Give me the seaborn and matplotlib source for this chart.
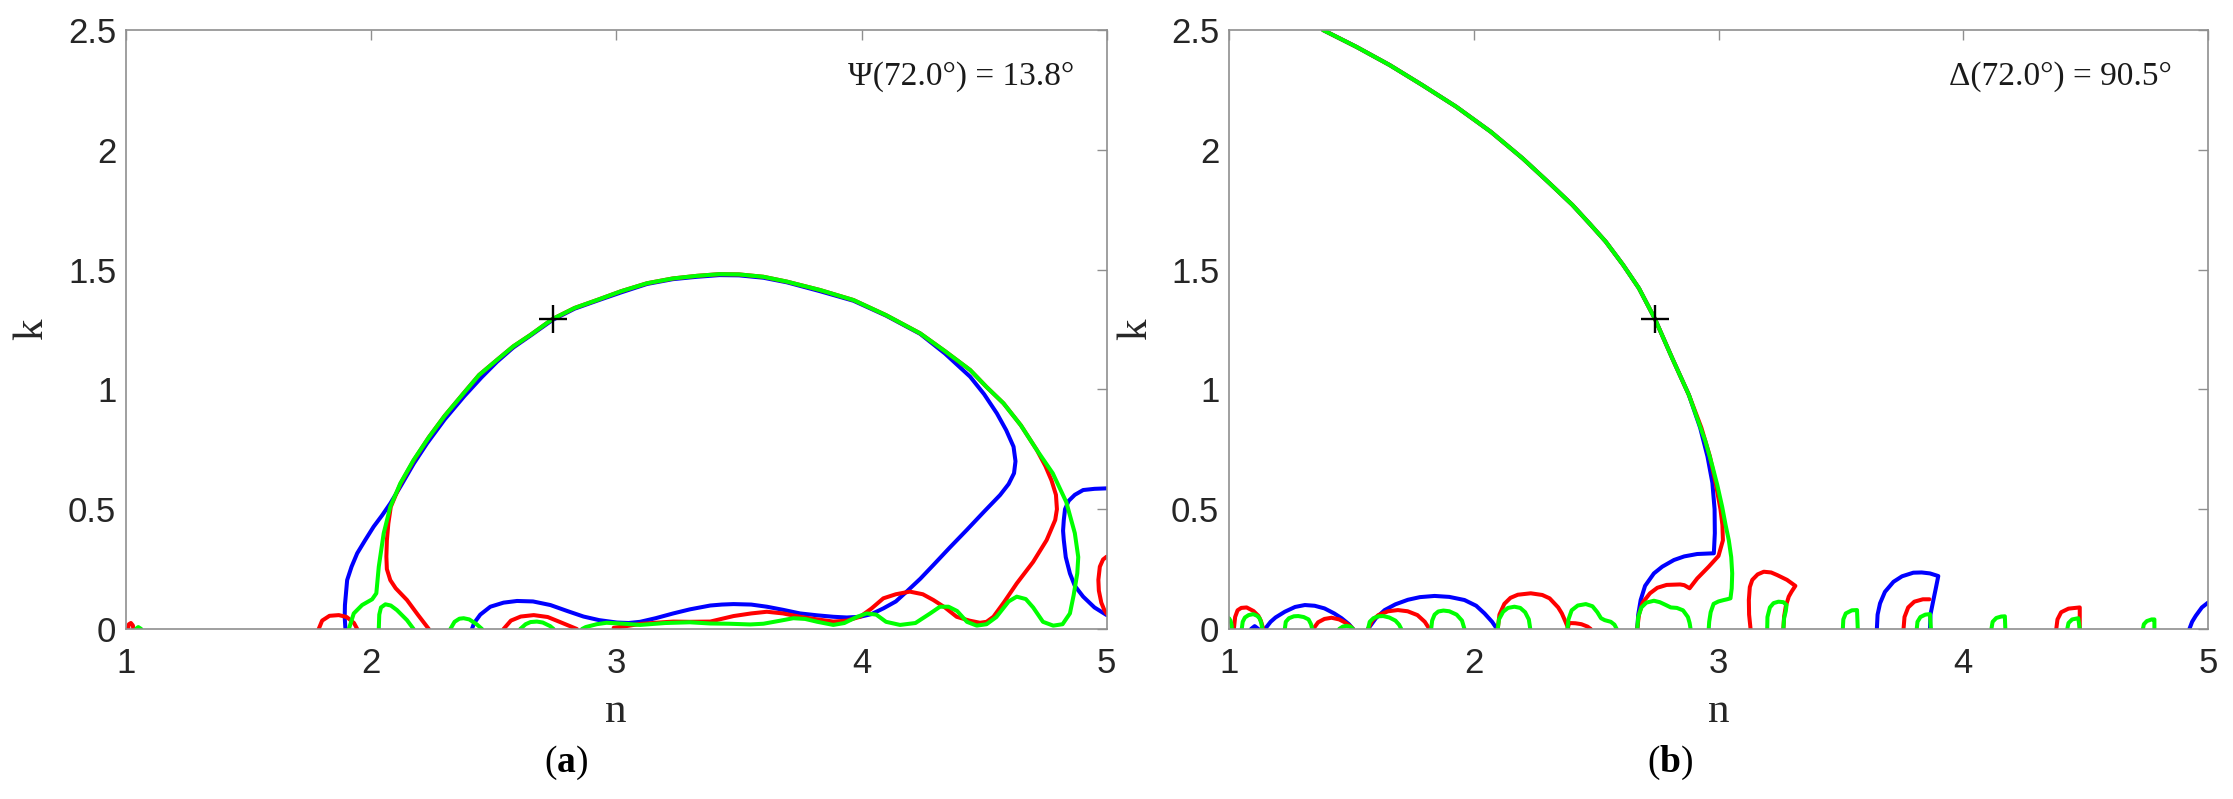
import matplotlib
matplotlib.use("Agg")
import matplotlib.pyplot as plt
import seaborn as sns
import pandas as pd

sns.set_theme(style="white")
plt.rcParams["font.family"] = ["Liberation Sans", "DejaVu Sans"]
plt.rcParams["mathtext.fontset"] = "custom"
plt.rcParams["mathtext.rm"] = "Liberation Serif"
plt.rcParams["mathtext.bf"] = "Liberation Serif:bold"

BLUE, RED, GREEN = "#0000FF", "#FF0000", "#00FF00"

# ---------------- data: panel (a)  Psi contours, (n, k) ----------------
a_blue_main = [(1.895,0.0),(1.892,0.05),(1.893,0.10),(1.902,0.204),(1.92,0.26),(1.943,0.316),(1.975,0.37),
    (2.010,0.427),(2.045,0.475),(2.078,0.524),(2.119,0.594),(2.174,0.691),(2.228,0.775),(2.30,0.875),
    (2.38,0.972),(2.45,1.05),(2.513,1.115),(2.58,1.175),(2.649,1.224),(2.74,1.29),(2.83,1.337),(2.921,1.37),
    (3.02,1.405),(3.125,1.44),(3.23,1.46),(3.329,1.47),(3.42,1.477),(3.50,1.476),(3.60,1.466),(3.695,1.447),
    (3.83,1.41),(3.967,1.37),(4.10,1.308),(4.239,1.232),(4.34,1.15),(4.443,1.053),(4.50,0.98),(4.552,0.90),
    (4.59,0.83),(4.620,0.761),(4.628,0.70),(4.622,0.65),(4.60,0.605),(4.565,0.559),(4.50,0.49),(4.429,0.413),
    (4.36,0.34),(4.293,0.267),(4.24,0.21),(4.184,0.156),(4.14,0.115),(4.089,0.086),(4.04,0.062),(3.994,0.051),
    (3.94,0.048),(3.885,0.051),(3.82,0.057),(3.749,0.065),(3.68,0.08),(3.614,0.093),(3.55,0.102),(3.478,0.104),
    (3.43,0.102),(3.383,0.098),(3.30,0.082),(3.232,0.065),(3.16,0.045),(3.097,0.03),(3.05,0.025),(3.002,0.027),
    (2.93,0.037),(2.866,0.052),(2.80,0.075),(2.731,0.10),(2.66,0.115),(2.595,0.117),(2.54,0.11),(2.486,0.093),
    (2.445,0.06),(2.42,0.025),(2.411,0.0)]
a_blue_loop = [(5.0,0.587),(4.95,0.585),(4.904,0.58),(4.87,0.56),(4.845,0.535),(4.83,0.50),(4.825,0.455),
    (4.822,0.41),(4.825,0.371),(4.833,0.30),(4.850,0.232),(4.87,0.18),(4.904,0.135),(4.95,0.09),(5.0,0.058)]

a_red_main = [(2.235,0.0),(2.19,0.06),(2.146,0.121),(2.10,0.17),(2.078,0.204),(2.064,0.25),(2.062,0.302),
    (2.064,0.37),(2.07,0.44),(2.08,0.51),(2.119,0.605),(2.173,0.703),(2.235,0.80),(2.30,0.89),(2.377,0.984),
    (2.44,1.06),(2.513,1.123),(2.58,1.18),(2.649,1.227),(2.74,1.294),(2.83,1.34),(2.921,1.373),(3.02,1.41),
    (3.125,1.443),(3.23,1.463),(3.329,1.474),(3.42,1.481),(3.50,1.48),(3.60,1.47),(3.695,1.45),(3.83,1.415),
    (3.967,1.373),(4.10,1.31),(4.239,1.234),(4.34,1.16),(4.443,1.081),(4.51,1.01),(4.579,0.942),(4.65,0.85),
    (4.715,0.747),(4.75,0.68),(4.775,0.62),(4.793,0.56),(4.797,0.50),(4.79,0.455),(4.755,0.371),(4.70,0.28),
    (4.633,0.19),(4.58,0.11),(4.538,0.051),(4.51,0.03),(4.483,0.026),(4.44,0.035),(4.388,0.051),(4.34,0.09),
    (4.293,0.121),(4.25,0.145),(4.197,0.156),(4.14,0.145),(4.089,0.128),(4.04,0.085),(3.994,0.051),(3.94,0.035),
    (3.885,0.031),(3.82,0.04),(3.749,0.051),(3.68,0.065),(3.614,0.072),(3.55,0.065),(3.478,0.054),(3.42,0.04),
    (3.383,0.031),(3.30,0.03),(3.232,0.031),(3.16,0.026),(3.097,0.021),(3.04,0.012),(2.989,0.005)]
a_red_edge = [(5.0,0.302),(4.985,0.29),(4.972,0.26),(4.966,0.205),(4.968,0.16),(4.978,0.11),(4.99,0.08),(5.0,0.064)]
a_red_dot = [(1.008,0.0),(1.012,0.02),(1.02,0.025),(1.028,0.015),(1.03,0.0)]
a_red_h1 = [(1.786,0.0),(1.80,0.035),(1.83,0.055),(1.868,0.058),(1.90,0.05),(1.93,0.025),(1.943,0.0)]
a_red_h2 = [(2.540,0.0),(2.57,0.035),(2.61,0.052),(2.663,0.058),(2.72,0.05),(2.78,0.025),(2.839,0.0)]

a_green_main = [(1.909,0.0),(1.929,0.065),(1.963,0.10),(2.004,0.124),(2.021,0.149),(2.031,0.26),(2.051,0.399),
    (2.078,0.51),(2.119,0.608),(2.173,0.705),(2.235,0.80),(2.30,0.89),(2.377,0.984),(2.44,1.06),(2.513,1.123),
    (2.58,1.18),(2.649,1.227),(2.74,1.294),(2.83,1.34),(2.921,1.373),(3.02,1.41),(3.125,1.443),(3.23,1.463),
    (3.329,1.474),(3.42,1.481),(3.50,1.48),(3.60,1.47),(3.695,1.45),(3.83,1.415),(3.967,1.373),(4.10,1.31),
    (4.239,1.234),(4.34,1.16),(4.443,1.081),(4.51,1.01),(4.579,0.942),(4.65,0.85),(4.715,0.747),(4.78,0.65),
    (4.835,0.53),(4.870,0.40),(4.884,0.30),(4.880,0.232),(4.865,0.14),(4.850,0.065),(4.82,0.02),(4.782,0.014),
    (4.74,0.03),(4.70,0.09),(4.67,0.125),(4.633,0.135),(4.60,0.115),(4.55,0.05),(4.51,0.02),(4.47,0.014),
    (4.43,0.03),(4.39,0.075),(4.355,0.093),(4.32,0.093),(4.28,0.065),(4.22,0.025),(4.157,0.017),(4.10,0.03),
    (4.06,0.06),(4.021,0.065),(3.98,0.05),(3.93,0.025),(3.885,0.017),(3.82,0.03),(3.77,0.042),(3.722,0.045),
    (3.67,0.035),(3.60,0.022),(3.546,0.019),(3.46,0.022),(3.383,0.023),(3.30,0.028),(3.2,0.025),(3.097,0.017),
    (3.03,0.022),(2.96,0.026),(2.92,0.02),(2.875,0.008),(2.86,0.0)]
a_green_dot = [(1.04,0.0),(1.05,0.008),(1.062,0.0)]
a_green_h1 = [(2.031,0.0),(2.033,0.06),(2.04,0.09),(2.058,0.103),(2.08,0.098),(2.105,0.079),(2.146,0.037),(2.173,0.0)]
a_green_h2 = [(2.323,0.0),(2.34,0.03),(2.36,0.043),(2.377,0.045),(2.40,0.04),(2.43,0.02),(2.452,0.0)]
a_green_h3 = [(2.608,0.0),(2.63,0.02),(2.65,0.029),(2.676,0.031),(2.70,0.027),(2.73,0.012),(2.744,0.0)]

# ---------------- data: panel (b)  Delta contours, (n, k) ----------------
b_blue_main = [(1.384,2.5),(1.52,2.43),(1.656,2.354),(1.79,2.27),(1.928,2.18),(2.07,2.075),(2.2,1.964),
    (2.31,1.86),(2.403,1.77),(2.475,1.69),(2.539,1.617),(2.61,1.52),(2.675,1.422),(2.74,1.295),(2.811,1.13),
    (2.879,0.977),(2.925,0.84),(2.955,0.72),(2.975,0.61),(2.984,0.50),(2.985,0.40),(2.981,0.316),(2.913,0.313),
    (2.86,0.303),(2.818,0.288),(2.77,0.26),(2.736,0.232),(2.70,0.18),(2.682,0.121),(2.672,0.06),(2.668,0.0)]
b_blue_t1 = [(1.09,0.0),(1.105,0.012),(1.12,0.0)]
b_blue_t2 = [(1.147,0.0),(1.17,0.03),(1.19,0.048),(1.228,0.072),(1.27,0.092),(1.31,0.10),(1.35,0.097),
    (1.39,0.086),(1.43,0.065),(1.46,0.045),(1.49,0.02),(1.507,0.0)]
b_blue_t3 = [(1.568,0.0),(1.60,0.045),(1.636,0.079),(1.68,0.103),(1.731,0.122),(1.78,0.133),(1.84,0.138),
    (1.90,0.134),(1.962,0.121),(2.01,0.097),(2.044,0.065),(2.075,0.03),(2.095,0.0)]
b_blue_t4 = [(3.647,0.0),(3.65,0.06),(3.66,0.107),(3.68,0.155),(3.715,0.197),(3.75,0.22),(3.796,0.235),
    (3.83,0.236),(3.864,0.232),(3.898,0.221),(3.888,0.17),(3.878,0.121),(3.866,0.06),(3.864,0.0)]
b_blue_t5 = [(4.924,0.0),(4.935,0.03),(4.95,0.055),(4.975,0.09),(5.0,0.11)]

b_red_main = [(1.384,2.5),(1.52,2.43),(1.656,2.354),(1.79,2.27),(1.928,2.18),(2.07,2.075),(2.2,1.964),
    (2.31,1.86),(2.403,1.77),(2.475,1.69),(2.539,1.617),(2.61,1.52),(2.675,1.422),(2.74,1.295),(2.811,1.13),
    (2.879,0.977),(2.93,0.84),(2.965,0.72),(2.99,0.60),(3.008,0.50),(3.016,0.434),(3.018,0.37),(3.00,0.305),
    (2.96,0.26),(2.913,0.211),(2.882,0.170),(2.86,0.183),(2.843,0.186),(2.788,0.184),(2.75,0.172),(2.72,0.149),
    (2.69,0.11),(2.675,0.06),(2.668,0.0)]
b_red_t1 = [(1.02,0.0),(1.025,0.05),(1.035,0.078),(1.05,0.088),(1.072,0.09),(1.10,0.075),(1.12,0.055),
    (1.13,0.035),(1.14,0.0)]
b_red_t2 = [(1.344,0.0),(1.364,0.028),(1.39,0.042),(1.419,0.047),(1.45,0.04),(1.473,0.028),(1.495,0.012),(1.507,0.0)]
b_red_t3 = [(1.568,0.0),(1.585,0.035),(1.61,0.058),(1.65,0.074),(1.69,0.079),(1.73,0.074),(1.77,0.058),
    (1.80,0.03),(1.819,0.0)]
b_red_t4 = [(2.098,0.0),(2.105,0.06),(2.125,0.105),(2.15,0.13),(2.18,0.143),(2.233,0.149),(2.28,0.142),
    (2.31,0.128),(2.345,0.09),(2.36,0.065),(2.375,0.03),(2.387,0.0)]
b_red_t5 = [(2.383,0.0),(2.39,0.025),(2.415,0.024),(2.44,0.02),(2.465,0.01),(2.478,0.0)]
b_red_t6 = [(3.131,0.0),(3.125,0.06),(3.124,0.121),(3.128,0.175),(3.138,0.205),(3.16,0.228),(3.185,0.239),
    (3.215,0.236),(3.24,0.225),(3.28,0.205),(3.314,0.18),(3.298,0.155),(3.287,0.135),(3.275,0.095),
    (3.268,0.052),(3.265,0.0)]
b_red_t7 = [(3.756,0.0),(3.76,0.05),(3.775,0.09),(3.80,0.114),(3.835,0.124),(3.862,0.124)]
b_red_t8 = [(4.38,0.0),(4.385,0.04),(4.40,0.07),(4.43,0.085),(4.476,0.09),(4.476,0.0)]

b_green_main = [(1.384,2.5),(1.52,2.43),(1.656,2.354),(1.79,2.27),(1.928,2.18),(2.07,2.075),(2.2,1.964),
    (2.31,1.86),(2.403,1.77),(2.475,1.69),(2.539,1.617),(2.61,1.52),(2.675,1.422),(2.74,1.295),(2.811,1.13),
    (2.879,0.977),(2.947,0.782),(2.975,0.68),(2.995,0.601),(3.015,0.51),(3.029,0.434),(3.042,0.371),
    (3.052,0.30),(3.056,0.232),(3.054,0.17),(3.049,0.128),(3.035,0.124),(3.022,0.121),(3.0,0.115),
    (2.98,0.105),(2.968,0.07),(2.962,0.03),(2.96,0.0)]
b_green_t0 = [(1.0,0.045),(1.006,0.035),(1.01,0.02),(1.012,0.0)]
b_green_t1 = [(1.052,0.0),(1.056,0.03),(1.065,0.048),(1.08,0.058),(1.099,0.062),(1.115,0.055),(1.125,0.045),
    (1.132,0.025),(1.136,0.0)]
b_green_t2 = [(1.228,0.0),(1.232,0.03),(1.245,0.045),(1.265,0.053),(1.283,0.054),(1.305,0.05),(1.325,0.04),
    (1.335,0.02),(1.34,0.0)]
b_green_t3 = [(1.45,0.0),(1.465,0.01),(1.48,0.013),(1.495,0.01),(1.507,0.0)]
b_green_t4 = [(1.568,0.0),(1.575,0.03),(1.59,0.045),(1.61,0.053),(1.63,0.054),(1.655,0.048),(1.68,0.035),
    (1.695,0.018),(1.704,0.0)]
b_green_t5 = [(1.826,0.0),(1.83,0.035),(1.84,0.06),(1.855,0.073),(1.876,0.077),(1.90,0.074),(1.93,0.06),
    (1.952,0.035),(1.962,0.0)]
b_green_t6 = [(2.098,0.0),(2.103,0.04),(2.12,0.072),(2.14,0.088),(2.166,0.093),(2.19,0.088),(2.21,0.07),
    (2.225,0.04),(2.231,0.0)]
b_green_t7 = [(2.383,0.0),(2.387,0.04),(2.40,0.078),(2.425,0.098),(2.458,0.104),(2.485,0.095),(2.505,0.07),
    (2.52,0.045),(2.535,0.037),(2.56,0.03),(2.575,0.018),(2.584,0.0)]
b_green_t8 = [(2.668,0.0),(2.672,0.05),(2.685,0.09),(2.705,0.11),(2.736,0.118),(2.76,0.112),(2.785,0.1),
    (2.805,0.09),(2.83,0.088),(2.855,0.078),(2.875,0.05),(2.882,0.025),(2.886,0.0)]
b_green_t9 = [(3.199,0.0),(3.2,0.05),(3.21,0.09),(3.225,0.108),(3.245,0.114),(3.265,0.112),(3.278,0.1),
    (3.275,0.075),(3.268,0.045),(3.265,0.0)]
b_green_t10 = [(3.508,0.0),(3.51,0.04),(3.52,0.065),(3.545,0.078),(3.566,0.079),(3.569,0.0)]
b_green_t11 = [(3.81,0.0),(3.813,0.03),(3.825,0.05),(3.845,0.06),(3.864,0.062),(3.868,0.0)]
b_green_t12 = [(4.115,0.0),(4.12,0.03),(4.135,0.046),(4.155,0.052),(4.17,0.053),(4.172,0.0)]
b_green_t13 = [(4.425,0.0),(4.43,0.025),(4.445,0.04),(4.47,0.045),(4.476,0.0)]
b_green_t14 = [(4.734,0.0),(4.738,0.02),(4.75,0.033),(4.77,0.04),(4.781,0.04),(4.781,0.0)]

mark_n = [2.74]
mark_k = [1.295]

x_ticks = [1, 2, 3, 4, 5]
y_ticks = [0, 0.5, 1, 1.5, 2, 2.5]
y_ticklabels = ["0", "0.5", "1", "1.5", "2", "2.5"]
ann_a = "Ψ(72.0°) = 13.8°"
ann_b = "Δ(72.0°) = 90.5°"

# ---------------- figure ----------------
W, H = 2233, 799
fig = plt.figure(figsize=(W / 100, H / 100), dpi=100)
axA = fig.add_axes([126 / W, 170 / H, 980.7 / W, 599 / H])
axB = fig.add_axes([1229 / W, 170 / H, 979 / W, 599 / H])

LW = 2.9
SPINE = "#8f8f8f"


def draw(ax, seg, color, z):
    df = pd.DataFrame(seg, columns=["n", "k"])
    sns.lineplot(data=df, x="n", y="k", sort=False, estimator=None, color=color,
                 lw=LW, ax=ax, zorder=z, legend=False)


panels = {
    axA: ([a_blue_main, a_blue_loop],
          [a_red_main, a_red_edge, a_red_dot, a_red_h1, a_red_h2],
          [a_green_main, a_green_dot, a_green_h1, a_green_h2, a_green_h3]),
    axB: ([b_blue_main, b_blue_t1, b_blue_t2, b_blue_t3, b_blue_t4, b_blue_t5],
          [b_red_main, b_red_t1, b_red_t2, b_red_t3, b_red_t4, b_red_t5, b_red_t6, b_red_t7, b_red_t8],
          [b_green_main, b_green_t0, b_green_t1, b_green_t2, b_green_t3, b_green_t4, b_green_t5,
           b_green_t6, b_green_t7, b_green_t8, b_green_t9, b_green_t10, b_green_t11, b_green_t12,
           b_green_t13, b_green_t14]),
}

for ax, (blues, reds, greens) in panels.items():
    for s in blues:
        draw(ax, s, BLUE, 3)
    for s in reds:
        draw(ax, s, RED, 4)
    for s in greens:
        draw(ax, s, GREEN, 5)
    sns.scatterplot(x=mark_n, y=mark_k, marker="+", s=380, color="black", linewidth=1.7,
                    ax=ax, zorder=7, legend=False)
    ax.set_xlim(1, 5)
    ax.set_ylim(0, 2.5)
    ax.set_xticks(x_ticks)
    ax.set_xticklabels([str(t) for t in x_ticks])
    ax.set_yticks(y_ticks)
    ax.set_yticklabels(y_ticklabels)
    ax.set_xlabel("")
    ax.set_ylabel("")
    ax.tick_params(axis="both", direction="in", length=7, width=1.0, color=SPINE,
                   top=True, right=True, labelsize=25, labelcolor="#262626")
    ax.tick_params(axis="x", pad=13)
    ax.tick_params(axis="y", pad=7)
    for sp in ax.spines.values():
        sp.set_color(SPINE)
        sp.set_linewidth(1.2)
        sp.set_zorder(10)
    ax.grid(False)
    ax.set_facecolor("white")

serif = ["Liberation Serif", "DejaVu Serif"]
axA.text(0.967, 0.922, ann_a, transform=axA.transAxes, ha="right", va="center",
         fontsize=24, family=serif, color="#1a1a1a")
axB.text(0.963, 0.922, ann_b, transform=axB.transAxes, ha="right", va="center",
         fontsize=24, family=serif, color="#1a1a1a")

fig.text(616 / W, 1 - 712 / H, "n", ha="center", va="center", fontsize=31, family=serif, color="#262626")
fig.text(1719 / W, 1 - 712 / H, "n", ha="center", va="center", fontsize=31, family=serif, color="#262626")
fig.text(32 / W, 1 - 329 / H, "k", ha="center", va="center", rotation=90, fontsize=31, family=serif,
         color="#262626")
fig.text(1136 / W, 1 - 329 / H, "k", ha="center", va="center", rotation=90, fontsize=31, family=serif,
         color="#262626")
fig.text(566 / W, 1 - 763 / H, r"($\mathbf{a}$)", ha="center", va="center", fontsize=27, family=serif,
         color="black")
fig.text(1670 / W, 1 - 763 / H, r"($\mathbf{b}$)", ha="center", va="center", fontsize=27, family=serif,
         color="black")

fig.savefig("out.png", dpi=100, facecolor="white")
